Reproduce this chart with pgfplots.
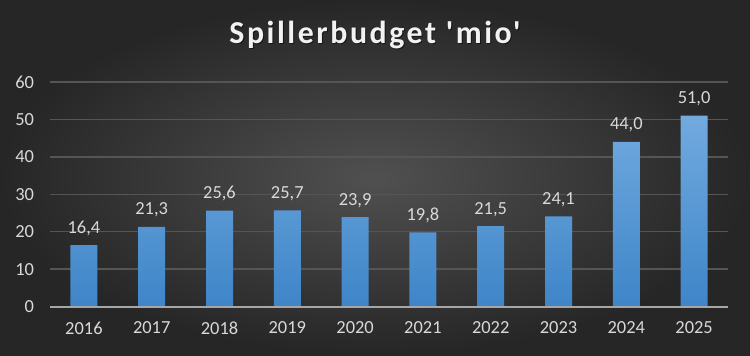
\documentclass[border=0pt]{standalone}
\usepackage{pgfplots}
\pgfplotsset{compat=1.18}
\usepackage{fontspec}
\setmainfont{Carlito}
\newfontfamily\titlefont{Carlito}[LetterSpace=8]
\definecolor{bgin}{HTML}{505050}
\definecolor{bgout}{HTML}{262626}
\definecolor{bartop}{HTML}{72AADF}
\definecolor{barbot}{HTML}{3E85C8}
\definecolor{gridc}{HTML}{555555}
\definecolor{axisc}{HTML}{A6A6A6}
\definecolor{txt}{HTML}{D9D9D9}
\begin{document}
\begin{tikzpicture}[x=1bp,y=1bp]
\shade[inner color=bgin, outer color=bgout] (0,0) rectangle (750,355);
\useasboundingbox (0,0) rectangle (750,355);
\node[font=\titlefont\fontsize{32}{36}\selectfont\bfseries, text=black, opacity=0.5] at (376,318.5) {Spillerbudget 'mio'};
\node[font=\titlefont\fontsize{32}{36}\selectfont\bfseries, text=white!95!black] at (375,320) {Spillerbudget 'mio'};
\begin{axis}[
  at={(50bp,48.5bp)}, anchor=south west,
  scale only axis, width=678bp, height=224.5bp,
  xmin=-0.5, xmax=9.5, ymin=0, ymax=60,
  ytick={0,10,...,60},
  xtick=data,
  xticklabels={2016,2017,2018,2019,2020,2021,2022,2023,2024,2025},
  ymajorgrids, grid style={gridc, line width=1.5bp},
  axis x line*=bottom, axis y line*=left,
  axis line style={draw=none},
  major tick length=0pt,
  ybar, bar width=27bp,
  tick label style={font=\fontsize{18.5}{20}\selectfont, text=txt},
  /pgf/number format/assume math mode=true,
  xticklabel style={yshift=-12bp},
  yticklabel style={xshift=-12.5bp},
  nodes near coords,
  nodes near coords style={font=\fontsize{18.5}{20}\selectfont, text=txt, anchor=south, yshift=6bp,
    /pgf/number format/.cd, fixed, fixed zerofill, precision=1, use comma, assume math mode=true},
  clip=false,
]
\addplot[draw=none, top color=bartop, bottom color=barbot] coordinates {
(0,16.4) (1,21.3) (2,25.6) (3,25.7) (4,23.9) (5,19.8) (6,21.5) (7,24.1) (8,44.0) (9,51.0)};
\draw[axisc, line width=2bp] (axis cs:-0.5,0) -- (axis cs:9.5,0);
\end{axis}
\end{tikzpicture}
\end{document}
